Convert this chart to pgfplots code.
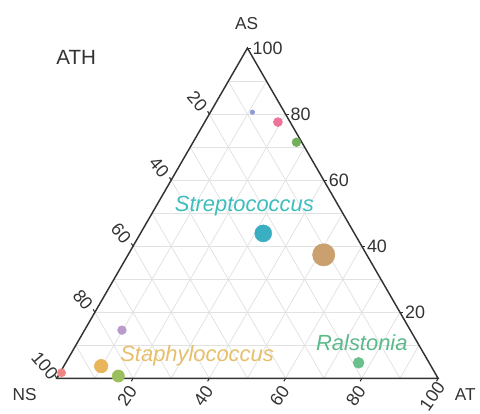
\documentclass[border=0pt]{standalone}
\usepackage{pgfplots}
\pgfplotsset{compat=1.18}
\usepackage{pgfplotstable}
\usepackage{fontspec}
\setmainfont{Liberation Sans}
\usetikzlibrary{calc}

\definecolor{edgecol}{HTML}{333333}
\definecolor{gridcol}{HTML}{E2E2E2}
\definecolor{cBlu}{HTML}{8C9BD8}
\definecolor{cPnk}{HTML}{EE7399}
\definecolor{cGrn}{HTML}{72AE5C}
\definecolor{cTea}{HTML}{3AAFC2}
\definecolor{cTan}{HTML}{C9A06E}
\definecolor{cPur}{HTML}{B99BCC}
\definecolor{cGld}{HTML}{E8B55A}
\definecolor{cOlv}{HTML}{9BBF5C}
\definecolor{cRed}{HTML}{EF8585}
\definecolor{cRal}{HTML}{6CC08C}
\definecolor{tStrep}{HTML}{3EBDBD}
\definecolor{tStaph}{HTML}{E6BF6A}
\definecolor{tRal}{HTML}{5CB98A}

% ternary composition (percent) of each taxon: AT, AS, NS
\pgfplotstableread{
AT    AS    NS    grp
11.0  80.6  8.4   blu
19.2  77.6  3.2   pnk
27.1  71.5  1.4   grn
51.3  37.4  11.3  tan
32.2  43.9  23.9  tea
9.8   14.6  75.6  pur
9.8   3.7   86.5  gld
15.8  0.7   83.5  olv
0.4   1.7   97.9  red
76.8  4.7   18.5  ral
}\ternpoints

\begin{document}
\begin{tikzpicture}
\begin{axis}[
  scale only axis,
  width=360pt, height=311.25pt,
  xmin=-14.88, xmax=110.44,
  ymin=-9.14, ymax=99.22,
  hide axis,
  clip=false,
]
\path (rel axis cs:0,0) rectangle (rel axis cs:1,1);

% grid lines every 10 percent
\pgfplotsinvokeforeach{10,20,...,90}{
  \draw[gridcol, line width=0.6pt] (axis cs:{#1/2},{0.866025*#1}) -- (axis cs:{100-#1/2},{0.866025*#1});
  \draw[gridcol, line width=0.6pt] (axis cs:#1,0) -- (axis cs:{#1+(100-#1)/2},{0.866025*(100-#1)});
  \draw[gridcol, line width=0.6pt] (axis cs:{100-#1},0) -- (axis cs:{(100-#1)/2},{0.866025*(100-#1)});
}

% triangle outline
\draw[edgecol, line width=1.1pt, line join=miter] (axis cs:0,0) -- (axis cs:100,0) -- (axis cs:50,86.6025) -- cycle;

% ticks and tick labels
\pgfplotsinvokeforeach{20,40,60,80,100}{
  \draw[edgecol, line width=0.8pt] (axis cs:{100-#1/2},{0.866025*#1}) -- ++(2.5pt,0pt);
  \draw[edgecol, line width=0.8pt] (axis cs:#1,0) -- ++(-1.25pt,-2.2pt);
  \draw[edgecol, line width=0.8pt] (axis cs:{(100-#1)/2},{0.866025*(100-#1)}) -- ++(-1.25pt,2.2pt);
  \node[anchor=west, inner sep=0pt, text=edgecol, font=\fontsize{13.5}{15}\selectfont]
    at ($(axis cs:{100-#1/2},{0.866025*#1})+(3.7pt,0pt)$) {#1};
  \node[rotate=55, inner sep=0pt, text=edgecol, font=\fontsize{13.5}{15}\selectfont]
    at ($(axis cs:#1,0)+(-4.5pt,-13.5pt)$) {#1};
  \node[rotate=-50, inner sep=0pt, text=edgecol, font=\fontsize{13.5}{15}\selectfont]
    at ($(axis cs:{(100-#1)/2},{0.866025*(100-#1)})+(-9pt,9.5pt)$) {#1};
}

% taxa
\addplot[
  scatter, only marks, mark=*,
  scatter src=explicit symbolic,
  scatter/classes={
    blu={mark size=1.7pt, cBlu},
    pnk={mark size=3.4pt, cPnk},
    grn={mark size=3.3pt, cGrn},
    tan={mark size=8.4pt, cTan},
    tea={mark size=6.4pt, cTea},
    pur={mark size=3.3pt, cPur},
    gld={mark size=5.1pt, cGld},
    olv={mark size=4.6pt, cOlv},
    red={mark size=3.1pt, cRed},
    ral={mark size=4.1pt, cRal}
  },
] table[x expr=\thisrow{AT}+0.5*\thisrow{AS}, y expr=0.866025*\thisrow{AS}, meta=grp] {\ternpoints};

% taxon names
\node[anchor=base, text=tStrep, font=\fontsize{16.5}{18}\selectfont\itshape] at (axis cs:49.2,43.8) {Streptococcus};
\node[anchor=base, text=tStaph, font=\fontsize{16.5}{18}\selectfont\itshape] at (axis cs:36.8,4.4) {Staphylococcus};
\node[anchor=base, text=tRal, font=\fontsize{16.5}{18}\selectfont\itshape] at (axis cs:80.0,7.4) {Ralstonia};

% vertex and panel labels
\node[anchor=base, text=edgecol, font=\fontsize{15.5}{17}\selectfont] at (axis cs:5.1,82.2) {ATH};
\node[anchor=base, text=edgecol, font=\fontsize{13}{15}\selectfont] at (axis cs:49.8,91.6) {AS};
\node[anchor=base, text=edgecol, font=\fontsize{13}{15}\selectfont] at (axis cs:-8.4,-5.9) {NS};
\node[anchor=base, text=edgecol, font=\fontsize{13}{15}\selectfont] at (axis cs:107.1,-5.9) {AT};
\end{axis}
\end{tikzpicture}
\end{document}
